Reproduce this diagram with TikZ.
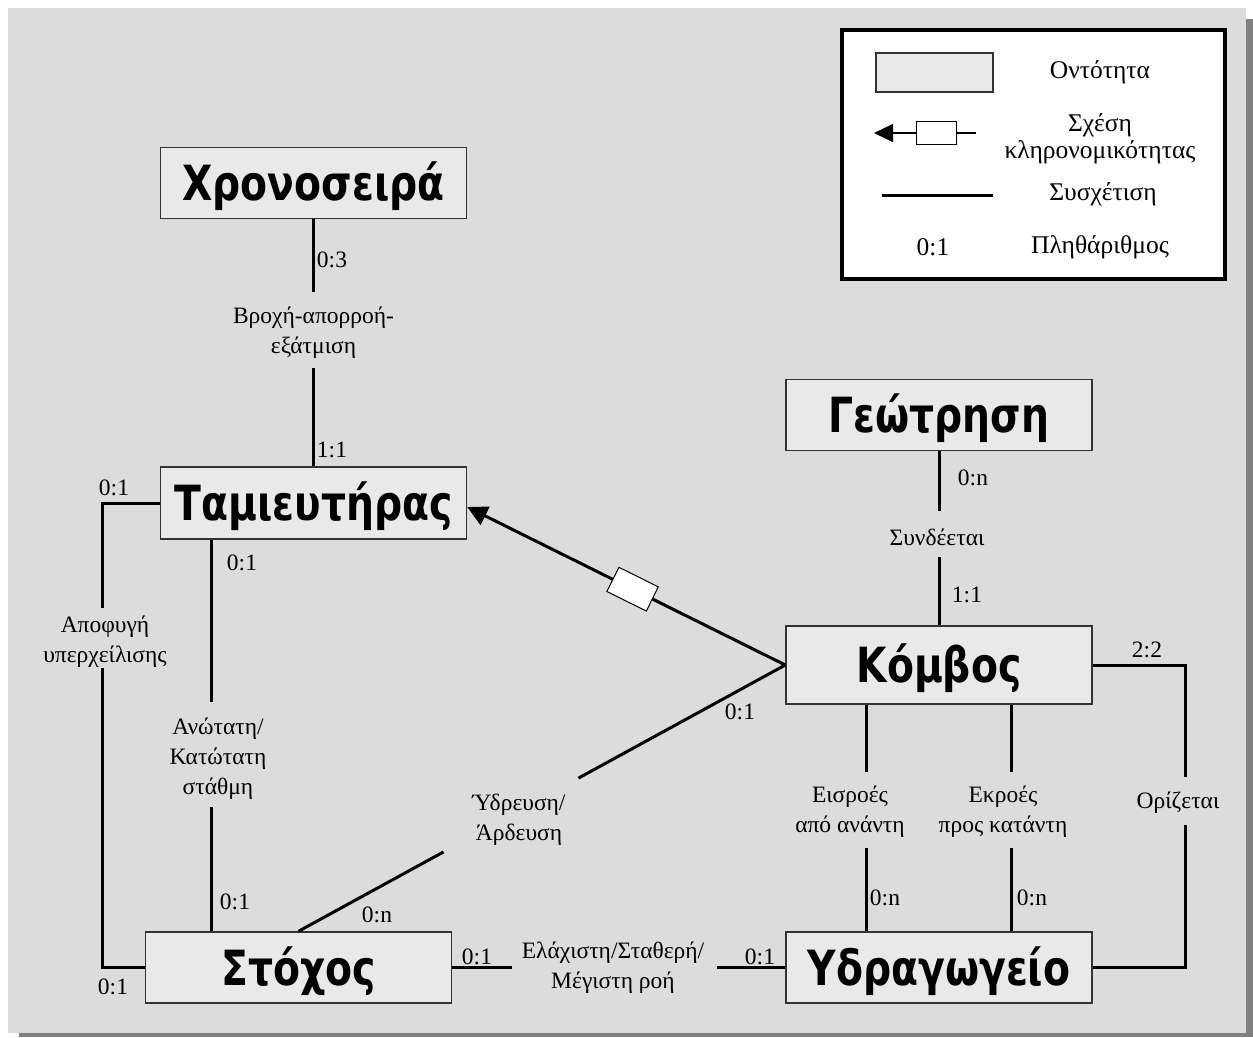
\documentclass[tikz,border=0pt]{standalone}
\usepackage{fontspec}
\setmainfont{Liberation Serif}
\newfontfamily\entfont{DejaVu Sans}[FakeStretch=0.81]
\usetikzlibrary{arrows.meta}
\definecolor{bggray}{HTML}{DCDCDC}
\definecolor{shadowgray}{HTML}{808080}
\definecolor{entfill}{HTML}{E9E9E9}
\definecolor{entborder}{HTML}{333333}
\begin{document}
\begin{tikzpicture}[x=1pt,y=-1pt,
  entity/.style={draw=entborder,line width=1.5pt,fill=entfill,minimum width=306pt,minimum height=71pt,inner sep=0pt,text height=35pt,text depth=0pt,font=\entfont\bfseries\fontsize{48.5}{56}\selectfont},
  rel/.style={font=\fontsize{23.5}{30}\selectfont,align=center,inner sep=0pt},
  card/.style={font=\fontsize{23.5}{27}\selectfont,inner sep=0pt},
  legtext/.style={font=\fontsize{25.5}{27}\selectfont,align=center,inner sep=0pt},
  conn/.style={line width=3pt},
  ]
\useasboundingbox (0,0) rectangle (1253,1037);
\fill[white] (0,0) rectangle (1253,1037);
\fill[shadowgray] (19,19) rectangle (1253,1037);
\fill[bggray] (8,8) rectangle (1246,1033);

% entities
\node[entity] (chron) at (313.5,183) {Χρονοσειρά};
\node[entity,minimum height=72pt] (tam) at (313.5,503) {Ταμιευτήρας};
\node[entity] (geo) at (939,415) {Γεώτρηση};
\node[entity,minimum height=78pt] (komb) at (939,665) {Κόμβος};
\node[entity] (stoch) at (298.5,967.5) {Στόχος};
\node[entity] (ydra) at (939,967.5) {Υδραγωγείο};

% relation labels
\node[rel] (r1) at (313.5,333) {Βροχή-απορροή-\\εξάτμιση};
\node[rel] (r2) at (105,642) {Αποφυγή\\υπερχείλισης};
\node[rel] (r3) at (218,759) {Ανώτατη/\\Κατώτατη\\στάθμη};
\node[rel] (r4) at (519,820) {Ύδρευση/\\Άρδευση};
\node[rel] (r5) at (937,537) {Συνδέεται};
\node[rel] (r6) at (850,812) {Εισροές\\από ανάντη};
\node[rel] (r7) at (1003,812) {Εκροές\\προς κατάντη};
\node[rel] (r8) at (1178,803) {Ορίζεται};
\node[rel] (r9) at (613,968) {Ελάχιστη/Σταθερή/\\Μέγιστη ροή};

% cardinalities
\node[card] (k1) at (332,260) {0:3};
\node[card] (k2) at (332,450) {1:1};
\node[card] (k3) at (114,488) {0:1};
\node[card] (k4) at (242,563) {0:1};
\node[card] (k5) at (235,902) {0:1};
\node[card] (k6) at (113,987) {0:1};
\node[card] (k7) at (377,915) {0:n};
\node[card] (k8) at (740,712) {0:1};
\node[card] (k9) at (477,957) {0:1};
\node[card] (k10) at (760,957) {0:1};
\node[card] (k11) at (973,478) {0:n};
\node[card] (k12) at (967,595) {1:1};
\node[card] (k13) at (1147,650) {2:2};
\node[card] (k14) at (885,898) {0:n};
\node[card] (k15) at (1032,898) {0:n};

% gap coordinates
\coordinate (g1a) at (313.5,292); \coordinate (g1b) at (313.5,368);
\coordinate (g2a) at (102,608);   \coordinate (g2b) at (102,668);
\coordinate (g3a) at (211,702);   \coordinate (g3b) at (211,807);
\coordinate (g5a) at (939,511);   \coordinate (g5b) at (939,557);
\coordinate (g6a) at (866,772);   \coordinate (g6b) at (866,848);
\coordinate (g7a) at (1011,772);  \coordinate (g7b) at (1011,848);
\coordinate (g8a) at (1185,777);  \coordinate (g8b) at (1185,825);
\coordinate (g9a) at (512,967.5); \coordinate (g9b) at (717,967.5);

% connectors
\draw[conn] (chron.south) -- (g1a);
\draw[conn] (g1b) -- (tam.north);
\draw[conn] (tam.west) -| (g2a);
\draw[conn] (g2b) |- (stoch.west);
\draw[conn] (tam.south -| g3a) -- (g3a);
\draw[conn] (g3b) -- (g3b |- stoch.north);
\path (komb.west) -- (stoch.north) coordinate[pos=0.425] (g4a) coordinate[pos=0.702] (g4b);
\draw[conn] (komb.west) -- (g4a);
\draw[conn] (g4b) -- (stoch.north);
\draw[conn,-{Triangle[length=20pt,width=20pt]}] (komb.west) -- ([yshift=-4pt]tam.east)
  node[pos=0.48,sloped,draw=black,fill=white,line width=1pt,minimum width=44pt,minimum height=27pt,inner sep=0pt] (inh) {};
\draw[conn] (geo.south) -- (g5a);
\draw[conn] (g5b) -- (komb.north);
\draw[conn] (komb.south -| g6a) -- (g6a);
\draw[conn] (g6b) -- (g6b |- ydra.north);
\draw[conn] (komb.south -| g7a) -- (g7a);
\draw[conn] (g7b) -- (g7b |- ydra.north);
\draw[conn] (komb.east) -| (g8a);
\draw[conn] (g8b) |- (ydra.east);
\draw[conn] (stoch.east) -- (g9a);
\draw[conn] (g9b) -- (ydra.west);

% legend
\node[draw=black,line width=4pt,fill=white,minimum width=383pt,minimum height=249pt,inner sep=0pt] (legend) at (1033.5,154.5) {};
\node[draw=entborder,line width=1.5pt,fill=entfill,minimum width=117pt,minimum height=39pt,inner sep=0pt] (lgent) at (934.5,72.5) {};
\node[legtext] (lgentT) at (1100,72) {Οντότητα};
\coordinate (lgA) at (976,133); \coordinate (lgB) at (874,133);
\draw[line width=1.3pt,-{Triangle[length=19pt,width=18pt]}] (lgA) -- (lgB)
  node[pos=0.39,draw=black,fill=white,line width=1.3pt,minimum width=40pt,minimum height=23pt,inner sep=0pt] (lginh) {};
\node[legtext] (lginhT) at (1100,138.5) {Σχέση\\κληρονομικότητας};
\coordinate (lgC) at (882,195); \coordinate (lgD) at (993,195);
\draw[line width=3pt] (lgC) -- (lgD);
\node[legtext] (lgassT) at (1103,194) {Συσχέτιση};
\node[legtext] (lgcard) at (933,247) {0:1};
\node[legtext] (lgcardT) at (1100,247) {Πληθάριθμος};
\end{tikzpicture}
\end{document}
